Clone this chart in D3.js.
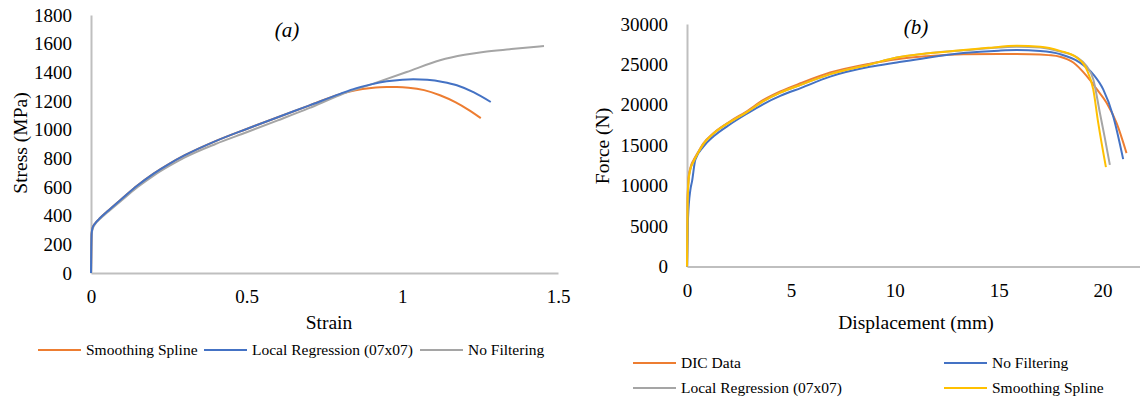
<!DOCTYPE html>
<html>
<head>
<meta charset="utf-8">
<script src="https://cdn.jsdelivr.net/npm/d3@7"></script>
<style>
  body { margin: 0; background: #fff; }
  svg { display: block; font-family: "Liberation Serif", "Times New Roman", serif; }
</style>
</head>
<body>
<svg id="chart" width="1140" height="401"></svg>
<script>
// ---- panel (a): stress vs strain ----
var strainSpline = [0, 0.001, 0.002, 0.005, 0.013, 0.03, 0.05, 0.1, 0.15, 0.2, 0.25, 0.3, 0.4, 0.5, 0.6, 0.7, 0.8, 0.85, 0.9, 0.95, 0.982, 1.02, 1.07, 1.121, 1.17, 1.21, 1.252];
var stressSpline = [0, 180, 275, 315, 345, 385, 425, 520, 612, 692, 760, 820, 920, 1005, 1087, 1168, 1248, 1275, 1290, 1297, 1297, 1293, 1276, 1240, 1192, 1142, 1081];

var strainLocal = [0, 0.001, 0.002, 0.005, 0.013, 0.03, 0.05, 0.1, 0.15, 0.2, 0.25, 0.3, 0.4, 0.5, 0.6, 0.7, 0.8, 0.85, 0.9, 0.95, 1.0, 1.035, 1.08, 1.13, 1.175, 1.23, 1.284];
var stressLocal = [0, 180, 275, 315, 345, 385, 425, 520, 612, 692, 760, 820, 920, 1005, 1087, 1168, 1250, 1288, 1316, 1337, 1349, 1352, 1348, 1333, 1310, 1260, 1193];

var strainNoFilt = [0, 0.001, 0.002, 0.005, 0.013, 0.03, 0.05, 0.1, 0.15, 0.2, 0.25, 0.3, 0.4, 0.5, 0.6, 0.7, 0.8, 0.907, 1.014, 1.121, 1.2, 1.26, 1.35, 1.455];
var stressNoFilt = [0, 170, 265, 305, 340, 380, 418, 510, 600, 678, 745, 805, 900, 982, 1065, 1150, 1242, 1321, 1402, 1484, 1522, 1542, 1562, 1584];

var strainTicks = [0, 0.5, 1, 1.5];
var stressTicks = [0, 200, 400, 600, 800, 1000, 1200, 1400, 1600, 1800];

// ---- panel (b): force vs displacement ----
var dispDIC = [0, 0.03, 0.08, 0.15, 0.32, 0.5, 0.8, 1.28, 2.08, 2.88, 3.68, 4.49, 5.5, 6.89, 8.8, 10.1, 11.5, 13.3, 15, 16.5, 17.4, 17.95, 18.59, 19.23, 19.7, 20.19, 20.67, 21.15];
var forceDIC = [0, 8500, 11100, 12100, 13200, 14000, 15270, 16520, 17970, 19210, 20600, 21650, 22700, 23990, 25100, 25650, 26000, 26270, 26300, 26270, 26150, 25950, 25230, 23570, 22000, 20250, 17760, 14030];

var dispNoFilt = [0, 0.05, 0.16, 0.24, 0.4, 0.8, 1.28, 2.08, 2.88, 3.68, 4.49, 5.5, 6.89, 8.8, 10.1, 11.5, 13.3, 15, 15.87, 17, 17.95, 18.91, 19.55, 20.03, 20.51, 20.99];
var forceNoFilt = [0, 6000, 9460, 10500, 13200, 14850, 16100, 17600, 18900, 20100, 21100, 22100, 23490, 24700, 25240, 25800, 26400, 26700, 26770, 26650, 26270, 25230, 23780, 21910, 18590, 13280];

var dispLocal = [0, 0.03, 0.08, 0.15, 0.32, 0.5, 0.8, 1.28, 2.08, 2.88, 3.68, 4.49, 5.5, 6.89, 8.8, 10.1, 11.5, 13.3, 14.5, 15.87, 17, 17.95, 18.75, 19.23, 19.55, 19.87, 20.1, 20.35];
var forceLocal = [0, 8000, 10800, 11900, 13000, 13900, 15200, 16450, 17900, 19100, 20450, 21500, 22500, 23800, 25000, 25850, 26350, 26740, 27000, 27200, 27100, 26600, 25900, 24800, 23160, 19000, 16000, 12570];

var dispSpline = [0, 0.03, 0.08, 0.15, 0.32, 0.5, 0.8, 1.28, 2.08, 2.88, 3.68, 4.49, 5.5, 6.89, 8.8, 10.1, 11.5, 13.3, 14.5, 15.87, 17, 17.95, 18.75, 19.23, 19.55, 19.79, 20.16];
var forceSpline = [0, 8000, 10800, 11900, 13000, 13900, 15200, 16450, 17900, 19100, 20450, 21500, 22500, 23800, 25000, 25850, 26350, 26770, 27050, 27300, 27200, 26680, 25860, 24400, 21910, 17760, 12290];

var dispTicks = [0, 5, 10, 15, 20];
var forceTicks = [0, 5000, 10000, 15000, 20000, 25000, 30000];

var orange = '#ED7D31', blue = '#4472C4', grey = '#A5A5A5', gold = '#FFC000';

function zip(xs, ys) { return xs.map(function(x, i) { return [x, ys[i]]; }); }

var svg = d3.select('#chart');

function drawPanel(p) {
  var x = d3.scaleLinear().domain(p.xDomain).range(p.xRange);
  var y = d3.scaleLinear().domain(p.yDomain).range(p.yRange);

  var yAxis = svg.append('g')
    .attr('transform', 'translate(' + p.xRange[0] + ',0)')
    .call(d3.axisLeft(y).tickValues(p.yTicks).tickSize(0).tickPadding(19).tickFormat(d3.format('d')));
  var xAxis = svg.append('g')
    .attr('transform', 'translate(0,' + p.yRange[0] + ')')
    .call(d3.axisBottom(x).tickValues(p.xTicks).tickSize(0).tickPadding(p.xPad).tickFormat(function(d) { return String(d); }));

  [yAxis, xAxis].forEach(function(a) {
    a.select('.domain').attr('stroke', '#bfbfbf').attr('stroke-width', 2);
    a.selectAll('text').attr('fill', '#000').style('font-size', '19px')
      .style('font-family', '"Liberation Serif", serif');
  });

  var line = d3.line()
    .x(function(d) { return x(d[0]); })
    .y(function(d) { return y(d[1]); })
    .curve(d3.curveMonotoneX);

  // drawn in array order, last one ends up on top
  p.series.forEach(function(s) {
    svg.append('path')
      .datum(zip(s.x, s.y))
      .attr('fill', 'none')
      .attr('stroke', s.color)
      .attr('stroke-width', 2)
      .attr('d', line);
  });

  svg.append('text')
    .attr('x', p.title[0]).attr('y', p.title[1])
    .attr('text-anchor', 'middle')
    .style('font-size', '21px').style('font-style', 'italic')
    .text(p.title[2]);

  svg.append('text')
    .attr('transform', 'translate(' + p.yLabel[0] + ',' + p.yLabel[1] + ') rotate(-90)')
    .attr('text-anchor', 'middle').attr('dy', '0.35em')
    .style('font-size', '19.5px')
    .text(p.yLabel[2]);

  svg.append('text')
    .attr('x', p.xLabel[0]).attr('y', p.xLabel[1])
    .attr('text-anchor', 'middle').attr('dy', '0.35em')
    .style('font-size', '19.5px')
    .text(p.xLabel[2]);

  p.series.forEach(function(s) {
    var g = svg.append('g').attr('transform', 'translate(' + s.leg[0] + ',' + s.leg[1] + ')');
    g.append('line').attr('x1', 0).attr('x2', 43).attr('y1', 0).attr('y2', 0)
      .attr('stroke', s.color).attr('stroke-width', 2);
    g.append('text').attr('x', 48).attr('dy', '0.35em')
      .style('font-size', '15.5px').text(s.name);
  });
}

drawPanel({
  xDomain: [0, 1.5], xRange: [91, 558],
  yDomain: [0, 1800], yRange: [273, 15],
  xTicks: strainTicks, yTicks: stressTicks, xPad: 17,
  title: [287, 37, '(a)'],
  yLabel: [20, 143, 'Stress (MPa)'],
  xLabel: [329, 322, 'Strain'],
  series: [
    { name: 'Smoothing Spline', color: orange, x: strainSpline, y: stressSpline, leg: [38, 350] },
    { name: 'No Filtering', color: grey, x: strainNoFilt, y: stressNoFilt, leg: [420, 350] },
    { name: 'Local Regression (07x07)', color: blue, x: strainLocal, y: stressLocal, leg: [204, 350] }
  ]
});

drawPanel({
  xDomain: [0, 21.8], xRange: [687, 1140],
  yDomain: [0, 30000], yRange: [266.5, 24],
  xTicks: dispTicks, yTicks: forceTicks, xPad: 17,
  title: [916, 34, '(b)'],
  yLabel: [602, 146, 'Force (N)'],
  xLabel: [916, 322, 'Displacement (mm)'],
  series: [
    { name: 'DIC Data', color: orange, x: dispDIC, y: forceDIC, leg: [633, 363] },
    { name: 'No Filtering', color: blue, x: dispNoFilt, y: forceNoFilt, leg: [944, 363] },
    { name: 'Local Regression (07x07)', color: grey, x: dispLocal, y: forceLocal, leg: [633, 388] },
    { name: 'Smoothing Spline', color: gold, x: dispSpline, y: forceSpline, leg: [944, 388] }
  ]
});
</script>
</body>
</html>
